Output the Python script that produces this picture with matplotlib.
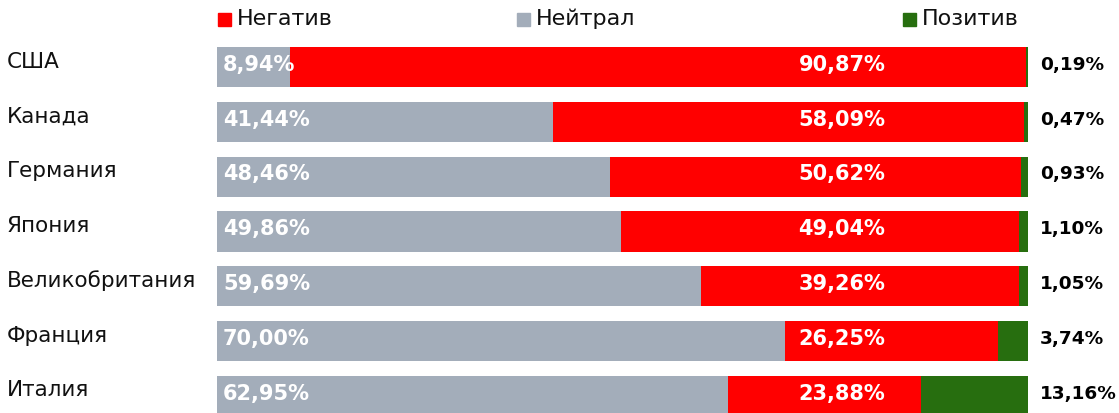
import matplotlib.pyplot as plt
from matplotlib.patches import Rectangle

plt.rcParams['font.family'] = ['DejaVu Sans']

# данные
countries = ['США', 'Канада', 'Германия', 'Япония', 'Великобритания', 'Франция', 'Италия']
neutral = [8.94, 41.44, 48.46, 49.86, 59.69, 70.00, 62.95]
negative = [90.87, 58.09, 50.62, 49.04, 39.26, 26.25, 23.88]
positive = [0.19, 0.47, 0.93, 1.10, 1.05, 3.74, 13.16]

c_neg = '#FF0000'
c_neu = '#A3ADBA'
c_pos = '#276E0F'

W, H = 1119, 413
fig = plt.figure(figsize=(W / 100, H / 100), dpi=100)
ax = fig.add_axes([217 / W, 0, 811 / W, 1])

y = list(range(len(countries)))
left_neg = neutral
left_pos = [a + b for a, b in zip(neutral, negative)]

ax.barh(y, neutral, height=0.73, color=c_neu)
ax.barh(y, negative, left=left_neg, height=0.73, color=c_neg)
ax.barh(y, positive, left=left_pos, height=0.73, color=c_pos)

ax.set_xlim(0, 100)
step = 54.83
ax.set_ylim((H - 67) / step, -67 / step)
ax.axis('off')


def fmt(v):
    return f'{v:.2f}'.replace('.', ',') + '%'


for i in y:
    ax.text(0.75, i - 0.04, fmt(neutral[i]), color='white', fontsize=15,
            fontweight='bold', ha='left', va='center')
    ax.text(71.7, i - 0.04, fmt(negative[i]), color='white', fontsize=15,
            fontweight='bold', ha='left', va='center')
    ax.text(101.5, i - 0.04, fmt(positive[i]), color='black', fontsize=13.3,
            fontweight='bold', ha='left', va='center', clip_on=False)
    ax.text(-25.9, i - 0.1, countries[i], color='#111111', fontsize=15.5,
            ha='left', va='center', clip_on=False)

# легенда вручную
legend = [('Негатив', c_neg, 218), ('Нейтрал', c_neu, 517), ('Позитив', c_pos, 903)]
for label, col, x0 in legend:
    fig.add_artist(Rectangle((x0 / W, 1 - 26 / H), 13 / W, 13 / H,
                             color=col, transform=fig.transFigure))
    fig.text((x0 + 19) / W, 1 - 19 / H, label, fontsize=16, color='#111111',
             ha='left', va='center')

fig.savefig('out.png', dpi=100, facecolor='white')
